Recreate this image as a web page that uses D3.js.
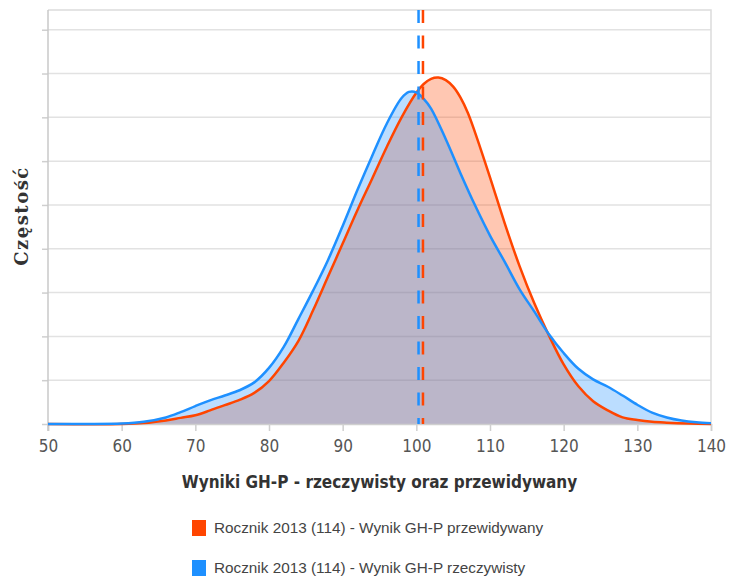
<!DOCTYPE html>
<html>
<head>
<meta charset="utf-8">
<script src="https://cdn.jsdelivr.net/npm/d3@7"></script>
<style>
  body { margin: 0; background: #fff; }
  svg { display: block; }
</style>
</head>
<body>
<svg id="canvas"></svg>
<script>
// scores on the x axis
let blueScores = [50, 55, 60, 63, 66, 68, 70, 72, 74, 76, 78, 80, 82, 84, 86, 88, 90, 92, 94, 96, 98, 99, 100, 101, 102, 104, 106, 108, 110, 112, 114, 116, 118, 120, 122, 124, 126, 128, 130, 132, 134, 136, 138, 140];
let blueFreq = [0, 0, 0.01, 0.05, 0.15, 0.27, 0.41, 0.54, 0.65, 0.77, 0.95, 1.28, 1.76, 2.4, 3.05, 3.74, 4.52, 5.34, 6.12, 6.86, 7.44, 7.58, 7.57, 7.42, 7.2, 6.5, 5.72, 4.98, 4.3, 3.7, 3.08, 2.57, 2.05, 1.62, 1.26, 1.02, 0.85, 0.65, 0.44, 0.26, 0.15, 0.08, 0.04, 0.02];

let orangeScores = [50, 60, 63, 66, 68, 70, 72, 74, 76, 78, 80, 82, 84, 86, 88, 90, 92, 94, 96, 98, 100, 101, 102, 103, 104, 105, 106, 107, 108, 110, 112, 114, 116, 118, 120, 122, 124, 126, 128, 130, 132, 134, 137, 140];
let orangeFreq = [0, 0, 0.02, 0.08, 0.14, 0.2, 0.31, 0.43, 0.55, 0.71, 0.98, 1.4, 1.9, 2.6, 3.36, 4.12, 4.88, 5.6, 6.33, 7.0, 7.56, 7.76, 7.88, 7.91, 7.85, 7.7, 7.45, 7.1, 6.64, 5.63, 4.58, 3.61, 2.76, 2.02, 1.36, 0.86, 0.52, 0.31, 0.15, 0.09, 0.05, 0.03, 0.01, 0];

let blueMean = 100.3;
let orangeMean = 100.9;

let xTicks = [50, 60, 70, 80, 90, 100, 110, 120, 130, 140];
let yTicks = [0, 1, 2, 3, 4, 5, 6, 7, 8, 9];

let seriesNames = [
  "Rocznik 2013 (114) - Wynik GH-P przewidywany",
  "Rocznik 2013 (114) - Wynik GH-P rzeczywisty",
];

let width = 729;
let height = 579;
let plotLeft = 48;
let plotRight = 711;
let plotTop = 10;
let plotBottom = 424;

let orange = "#ff4500";
let blue = "#1e90ff";

let canvas = d3.select("#canvas").attr("width", width).attr("height", height);

let xScale = d3.scaleLinear().domain([50, 140]).range([plotLeft, plotRight]);
let yScale = d3.scaleLinear().domain([0, 9.45]).range([plotBottom, plotTop]);

let toPoints = (xs, ys) => xs.map((x, i) => [x, ys[i]]);
let bluePoints = toPoints(blueScores, blueFreq);
let orangePoints = toPoints(orangeScores, orangeFreq);

// grid
canvas
  .append("g")
  .selectAll("line")
  .data(yTicks.slice(1))
  .enter()
  .append("line")
  .attr("x1", plotLeft)
  .attr("x2", plotRight)
  .attr("y1", (d) => yScale(d))
  .attr("y2", (d) => yScale(d))
  .attr("stroke", "#e2e2e2")
  .attr("stroke-width", 1.5);

// frame top/right
canvas
  .append("path")
  .attr("d", `M${plotLeft},${plotTop}H${plotRight}V${plotBottom}`)
  .attr("fill", "none")
  .attr("stroke", "#dcdcdc")
  .attr("stroke-width", 1.5);

let smooth = d3.curveCatmullRom.alpha(0.5);

let area = d3
  .area()
  .x((d) => xScale(d[0]))
  .y0(yScale(0))
  .y1((d) => yScale(Math.max(0, d[1])))
  .curve(smooth);

let line = d3
  .line()
  .x((d) => xScale(d[0]))
  .y((d) => yScale(d[1]))
  .curve(smooth);

canvas
  .append("path")
  .datum(orangePoints)
  .attr("d", area)
  .attr("fill", orange)
  .attr("fill-opacity", 0.3);

canvas
  .append("path")
  .datum(bluePoints)
  .attr("d", area)
  .attr("fill", blue)
  .attr("fill-opacity", 0.3);

// axes
let xAxis = d3.axisBottom(xScale).tickValues(xTicks).tickSize(7).tickPadding(9);
let yAxis = d3.axisLeft(yScale).tickValues(yTicks).tickSize(6).tickFormat("");

let gx = canvas
  .append("g")
  .attr("transform", "translate(0," + plotBottom + ")")
  .call(xAxis);
let gy = canvas
  .append("g")
  .attr("transform", "translate(" + plotLeft + ",0)")
  .call(yAxis);

gx.select(".domain").attr("stroke", "#cfcfcf").attr("stroke-width", 1.5);
gy.select(".domain").remove();
canvas
  .append("line")
  .attr("x1", plotLeft)
  .attr("x2", plotLeft)
  .attr("y1", plotTop)
  .attr("y2", plotBottom + 7)
  .attr("stroke", "#c8c8c8")
  .attr("stroke-width", 1.5);
gx.selectAll(".tick line").attr("stroke", "#cfcfcf").attr("stroke-width", 1.5);
gy.selectAll(".tick line").attr("stroke", "#cfcfcf").attr("stroke-width", 1.5);
gx.selectAll(".tick text")
  .attr("fill", "#555")
  .style("font-family", "'DejaVu Sans Condensed', 'DejaVu Sans', sans-serif")
  .style("font-size", "17px");

// curves
canvas
  .append("path")
  .datum(orangePoints)
  .attr("d", line)
  .attr("fill", "none")
  .attr("stroke", orange)
  .attr("stroke-width", 2.5);

canvas
  .append("path")
  .datum(bluePoints)
  .attr("d", line)
  .attr("fill", "none")
  .attr("stroke", blue)
  .attr("stroke-width", 2.5);

// mean lines
let means = [
  { v: blueMean, c: blue },
  { v: orangeMean, c: orange },
];
canvas
  .selectAll(".mean")
  .data(means)
  .enter()
  .append("line")
  .attr("class", "mean")
  .attr("x1", (d) => xScale(d.v))
  .attr("x2", (d) => xScale(d.v))
  .attr("y1", plotTop)
  .attr("y2", plotBottom)
  .attr("stroke", (d) => d.c)
  .attr("stroke-width", 2.5)
  .attr("stroke-dasharray", "13,12.5");

// titles
canvas
  .append("text")
  .attr("x", (plotLeft + plotRight) / 2)
  .attr("y", 488)
  .attr("text-anchor", "middle")
  .attr("fill", "#333")
  .style("font-family", "'DejaVu Sans Condensed', 'DejaVu Sans', sans-serif")
  .style("font-weight", "bold")
  .style("font-size", "17px")
  .text("Wyniki GH-P - rzeczywisty oraz przewidywany");

canvas
  .append("text")
  .attr("transform", "translate(28,216) rotate(-90)")
  .attr("text-anchor", "middle")
  .attr("fill", "#333")
  .style("font-family", "'DejaVu Serif', serif")
  .style("font-weight", "bold")
  .style("font-size", "18px")
  .style("letter-spacing", "1.5px")
  .text("Częstość");

// legend
let legend = canvas
  .selectAll(".legend")
  .data(seriesNames)
  .enter()
  .append("g")
  .attr("class", "legend")
  .attr("transform", (d, i) => "translate(192," + (520 + i * 40) + ")");

legend
  .append("rect")
  .attr("width", 14)
  .attr("height", 16)
  .attr("fill", (d, i) => (i === 0 ? orange : blue));

legend
  .append("text")
  .attr("x", 22)
  .attr("y", 13)
  .attr("fill", "#444")
  .style("font-family", "'Liberation Sans', Arial, sans-serif")
  .style("font-size", "15.3px")
  .text((d) => d);
</script>
</body>
</html>
